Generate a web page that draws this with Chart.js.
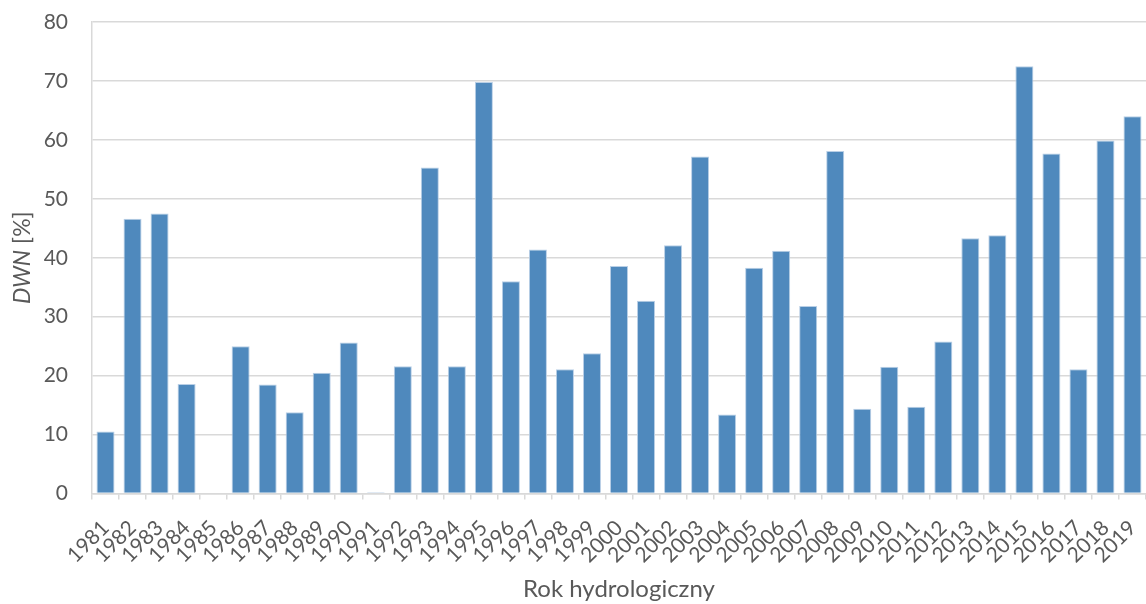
<!DOCTYPE html>
<html>
<head>
<meta charset="utf-8">
<script src="https://cdn.jsdelivr.net/npm/chart.js@4.4.1/dist/chart.umd.min.js"></script>
<style>
  html, body { margin: 0; padding: 0; background: #ffffff; }
  #wrap { width: 1146px; height: 604px; position: relative; }
</style>
</head>
<body>
<div id="wrap"><canvas id="c" width="1146" height="604"></canvas></div>
<script>
// Hydrological years
const years = [
  '1981','1982','1983','1984','1985','1986','1987','1988','1989','1990',
  '1991','1992','1993','1994','1995','1996','1997','1998','1999','2000',
  '2001','2002','2003','2004','2005','2006','2007','2008','2009','2010',
  '2011','2012','2013','2014','2015','2016','2017','2018','2019'
];

// DWN values [%] per year
const dwn = [
  10.5, 46.6, 47.5, 18.6, 0.0, 25.0, 18.5, 13.8, 20.5, 25.6,
  0.2, 21.6, 55.3, 21.6, 69.8, 36.0, 41.4, 21.1, 23.8, 38.6,
  32.7, 42.1, 57.2, 13.4, 38.3, 41.2, 31.8, 58.1, 14.4, 21.5,
  14.7, 25.8, 43.3, 43.8, 72.5, 57.7, 21.1, 59.9, 64.0
];

// Y axis range and tick step
const yMin = 0;
const yMax = 80;
const yStep = 10;

const yTitleItalic = 'DWN';
const yTitleRest = ' [%]';
const xTitle = 'Rok hydrologiczny';

const FONT = 'Lato, "Open Sans", sans-serif';
const TEXT = '#595959';
const GRID = '#d9d9d9';

// Y axis title with an italic symbol followed by the unit in upright type
const yTitlePlugin = {
  id: 'yTitle',
  afterDraw(chart) {
    const ctx = chart.ctx;
    const area = chart.chartArea;
    const size = 23;
    const fItal = 'italic ' + size + 'px ' + FONT;
    const fNorm = size + 'px ' + FONT;
    ctx.save();
    ctx.font = fItal;
    const w1 = ctx.measureText(yTitleItalic).width;
    ctx.font = fNorm;
    const w2 = ctx.measureText(yTitleRest).width;
    const total = w1 + w2;
    ctx.translate(23, (area.top + area.bottom) / 2);
    ctx.rotate(-Math.PI / 2);
    ctx.fillStyle = TEXT;
    ctx.textBaseline = 'middle';
    ctx.textAlign = 'left';
    ctx.font = fItal;
    ctx.fillText(yTitleItalic, -total / 2, 0);
    ctx.font = fNorm;
    ctx.fillText(yTitleRest, -total / 2 + w1, 0);
    ctx.restore();
  }
};

new Chart(document.getElementById('c'), {
  type: 'bar',
  data: {
    labels: years,
    datasets: [{
      data: dwn,
      backgroundColor: '#4f89bd',
      borderColor: '#b9cfe6',
      borderWidth: 1,
      barPercentage: 0.667,
      categoryPercentage: 1.0
    }]
  },
  options: {
    responsive: false,
    animation: false,
    devicePixelRatio: 1,
    layout: { padding: { top: 22, right: 0, bottom: 0, left: 0 } },
    plugins: {
      legend: { display: false },
      tooltip: { enabled: false }
    },
    scales: {
      x: {
        grid: {
          display: true,
          drawOnChartArea: false,
          drawTicks: true,
          tickLength: 6,
          color: GRID,
          lineWidth: 1.5
        },
        border: { display: true, color: GRID, width: 1.5 },
        ticks: {
          color: TEXT,
          font: { family: FONT, size: 21 },
          minRotation: 45,
          maxRotation: 45,
          autoSkip: false,
          padding: 16
        },
        title: {
          display: true,
          text: xTitle,
          color: TEXT,
          font: { family: FONT, size: 24 },
          padding: { top: 0, bottom: 0 }
        },
        afterFit(scale) {
          scale.height = 110.5;
          scale.paddingLeft = 0;
          scale.paddingRight = 0;
        }
      },
      y: {
        min: yMin,
        max: yMax,
        grid: {
          color: GRID,
          lineWidth: 1.5,
          drawTicks: false
        },
        border: { display: true, color: GRID, width: 1.5 },
        ticks: {
          stepSize: yStep,
          color: TEXT,
          font: { family: FONT, size: 21 },
          padding: 24
        },
        afterFit(scale) {
          scale.width = 92;
          scale.paddingTop = 0;
          scale.paddingBottom = 0;
        }
      }
    }
  },
  plugins: [yTitlePlugin]
});
</script>
</body>
</html>
